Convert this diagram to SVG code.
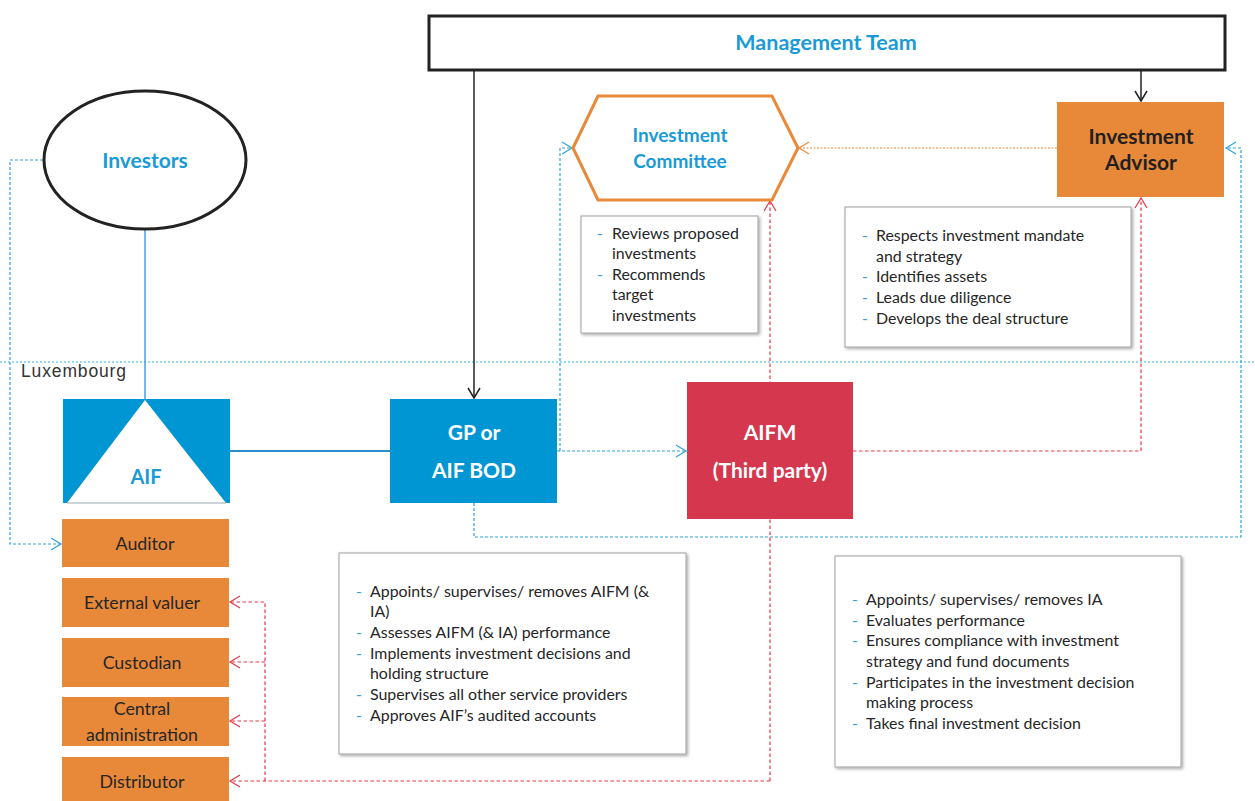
<svg xmlns="http://www.w3.org/2000/svg" width="1255" height="801" viewBox="0 0 1255 801">
<style>
.lbl{font-family:Lato,"Open Sans",sans-serif;font-weight:bold;text-anchor:middle}
.blue{fill:#1A9AD6}
.wht{fill:#FFFFFF}
.dark{fill:#231F20}
.svc{font-family:Lato,"Open Sans",sans-serif;font-size:17.8px;fill:#262626;text-anchor:middle}
.note{fill:#FFFFFF;stroke:#A0A0A0;stroke-width:1}
.nt{font-family:Lato,"Open Sans",sans-serif;font-size:15.9px;fill:#262626}
.dash{font-family:Lato,"Open Sans",sans-serif;font-size:15.9px;fill:#3A9AD6}
.bdot{fill:none;stroke:#2EA3DC;stroke-width:1.2;stroke-dasharray:3 2}
.rdot{fill:none;stroke:#E5384C;stroke-width:1.2;stroke-dasharray:3.5 2.5}
.odot{fill:none;stroke:#E8893A;stroke-width:1.2;stroke-dasharray:2 1.5}
</style>
<defs>
<marker id="ab" markerUnits="userSpaceOnUse" markerWidth="14" markerHeight="16" refX="11" refY="7" orient="auto"><path d="M1,1 L11,7 L1,13" fill="none" stroke="#222" stroke-width="1.5"/></marker>
<marker id="abl" markerUnits="userSpaceOnUse" markerWidth="14" markerHeight="16" refX="11" refY="7" orient="auto"><path d="M1,1 L11,7 L1,13" fill="none" stroke="#2EA3DC" stroke-width="1.2"/></marker>
<marker id="ar" markerUnits="userSpaceOnUse" markerWidth="14" markerHeight="16" refX="11" refY="7" orient="auto"><path d="M1,1 L11,7 L1,13" fill="none" stroke="#E5384C" stroke-width="1.2"/></marker>
<marker id="ao" markerUnits="userSpaceOnUse" markerWidth="14" markerHeight="16" refX="11" refY="7" orient="auto"><path d="M1,1 L11,7 L1,13" fill="none" stroke="#E8893A" stroke-width="1.2"/></marker>
<filter id="sh" x="-5%" y="-5%" width="115%" height="115%"><feDropShadow dx="1.5" dy="1.5" stdDeviation="1.5" flood-color="#000" flood-opacity="0.35"/></filter>
</defs>
<rect width="1255" height="801" fill="#FFFFFF"/>

<g id="luxembourg">
<path d="M0,362 H1255" fill="none" stroke="#3CB4E6" stroke-width="1.2" stroke-dasharray="2 2"/>
<text x="21" y="377" font-family="Liberation Sans, Arial, sans-serif" font-size="17.5" fill="#333" textLength="105">Luxembourg</text>
</g>

<g id="connectors">
<path d="M474,70 V398" fill="none" stroke="#222" stroke-width="1.5" marker-end="url(#ab)"/>
<path d="M1141,70 V101" fill="none" stroke="#222" stroke-width="1.5" marker-end="url(#ab)"/>
<path d="M145,229 V400" fill="none" stroke="#4A9FD8" stroke-width="1.5"/>
<path d="M230,451 H390" fill="none" stroke="#2C8DCB" stroke-width="2"/>
<path class="bdot" d="M43,160 H10 V544 H61" marker-end="url(#abl)"/>
<path class="bdot" d="M557,451 H686" marker-end="url(#abl)"/>
<path class="bdot" d="M560,451 V148 H572" marker-end="url(#abl)"/>
<path class="bdot" d="M474,503 V537 H1241 V148 H1226" marker-end="url(#abl)"/>
<path class="rdot" d="M853,451 H1141 V198" marker-end="url(#ar)"/>
<path class="rdot" d="M770,781 V201" marker-end="url(#ar)"/>
<path class="rdot" d="M770,781 H230" marker-end="url(#ar)"/>
<path class="rdot" d="M265,781 V602 H230" marker-end="url(#ar)"/>
<path class="rdot" d="M265,662 H230" marker-end="url(#ar)"/>
<path class="rdot" d="M265,721 H230" marker-end="url(#ar)"/>
<path class="odot" d="M1057,148 H799" marker-end="url(#ao)"/>
</g>

<g id="management-team">
<rect x="429" y="16" width="796" height="54" fill="#FFFFFF" stroke="#222" stroke-width="3"/>
<text class="lbl blue" x="826" y="50" font-size="21.5">Management Team</text>
</g>

<g id="investors">
<ellipse cx="145" cy="160" rx="101" ry="69" fill="#FFFFFF" stroke="#222" stroke-width="3"/>
<text class="lbl blue" x="145" y="168" font-size="21">Investors</text>
</g>

<g id="investment-committee">
<polygon points="573,148 598,96 772,96 798,148 772,200 598,200" fill="#FFFFFF" stroke="#E8893A" stroke-width="3"/>
<text class="lbl blue" x="680" y="142" font-size="19">Investment</text>
<text class="lbl blue" x="680" y="168" font-size="19">Committee</text>
</g>

<g id="investment-advisor">
<rect x="1057" y="102" width="167" height="95" fill="#E8893A"/>
<text class="lbl dark" x="1141" y="144" font-size="21">Investment</text>
<text class="lbl dark" x="1141" y="170" font-size="21">Advisor</text>
</g>

<g id="ic-notes">
<rect class="note" x="581" y="216" width="177" height="117" filter="url(#sh)"/>
<text class="dash" x="597" y="239">-</text><text class="nt" x="612" y="239">Reviews proposed</text>
<text class="nt" x="612" y="259">investments</text>
<text class="dash" x="597" y="280">-</text><text class="nt" x="612" y="280">Recommends</text>
<text class="nt" x="612" y="300">target</text>
<text class="nt" x="612" y="321">investments</text>
</g>

<g id="ia-notes">
<rect class="note" x="845" y="207" width="286" height="140" filter="url(#sh)"/>
<text class="dash" x="862" y="241">-</text><text class="nt" x="876" y="241">Respects investment mandate</text>
<text class="nt" x="876" y="262">and strategy</text>
<text class="dash" x="862" y="282">-</text><text class="nt" x="876" y="282">Identifies assets</text>
<text class="dash" x="862" y="303">-</text><text class="nt" x="876" y="303">Leads due diligence</text>
<text class="dash" x="862" y="324">-</text><text class="nt" x="876" y="324">Develops the deal structure</text>
</g>

<g id="aif">
<rect x="63" y="399" width="167" height="104" fill="#0096D4"/>
<polygon points="145,400 67,503 226,503" fill="#FFFFFF"/>
<path d="M67,503 H226" stroke="#9AA8B4" stroke-width="1.2"/>
<text class="lbl blue" x="146" y="484" font-size="20">AIF</text>
</g>

<g id="gp-aif-bod">
<rect x="390" y="399" width="167" height="104" fill="#0096D4"/>
<text class="lbl wht" x="474" y="440" font-size="21">GP or</text>
<text class="lbl wht" x="474" y="478" font-size="21">AIF BOD</text>
</g>

<g id="aifm">
<rect x="687" y="382" width="166" height="137" fill="#D5374E"/>
<text class="lbl wht" x="770" y="440" font-size="21">AIFM</text>
<text class="lbl wht" x="770" y="478" font-size="21">(Third party)</text>
</g>

<g id="auditor">
<rect x="62" y="519" width="167" height="48" fill="#E8893A"/>
<text class="svc" x="145" y="550">Auditor</text>
</g>
<g id="external-valuer">
<rect x="62" y="578" width="167" height="49" fill="#E8893A"/>
<text class="svc" x="142" y="609">External valuer</text>
</g>
<g id="custodian">
<rect x="62" y="638" width="167" height="49" fill="#E8893A"/>
<text class="svc" x="142" y="669">Custodian</text>
</g>
<g id="central-administration">
<rect x="62" y="697" width="167" height="49" fill="#E8893A"/>
<text class="svc" x="142" y="715">Central</text>
<text class="svc" x="142" y="741">administration</text>
</g>
<g id="distributor">
<rect x="62" y="757" width="167" height="44" fill="#E8893A"/>
<text class="svc" x="142" y="788">Distributor</text>
</g>

<g id="gp-notes">
<rect class="note" x="339" y="553" width="347" height="201" filter="url(#sh)"/>
<text class="dash" x="356" y="597">-</text><text class="nt" x="370" y="597">Appoints/ supervises/ removes AIFM (&amp;</text>
<text class="nt" x="370" y="617">IA)</text>
<text class="dash" x="356" y="638">-</text><text class="nt" x="370" y="638">Assesses AIFM (&amp; IA) performance</text>
<text class="dash" x="356" y="659">-</text><text class="nt" x="370" y="659">Implements investment decisions and</text>
<text class="nt" x="370" y="679">holding structure</text>
<text class="dash" x="356" y="700">-</text><text class="nt" x="370" y="700">Supervises all other service providers</text>
<text class="dash" x="356" y="721">-</text><text class="nt" x="370" y="721">Approves AIF’s audited accounts</text>
</g>

<g id="aifm-notes">
<rect class="note" x="835" y="556" width="346" height="211" filter="url(#sh)"/>
<text class="dash" x="852" y="605">-</text><text class="nt" x="866" y="605">Appoints/ supervises/ removes IA</text>
<text class="dash" x="852" y="626">-</text><text class="nt" x="866" y="626">Evaluates performance</text>
<text class="dash" x="852" y="646">-</text><text class="nt" x="866" y="646">Ensures compliance with investment</text>
<text class="nt" x="866" y="667">strategy and fund documents</text>
<text class="dash" x="852" y="688">-</text><text class="nt" x="866" y="688">Participates in the investment decision</text>
<text class="nt" x="866" y="708">making process</text>
<text class="dash" x="852" y="729">-</text><text class="nt" x="866" y="729">Takes final investment decision</text>
</g>
</svg>
